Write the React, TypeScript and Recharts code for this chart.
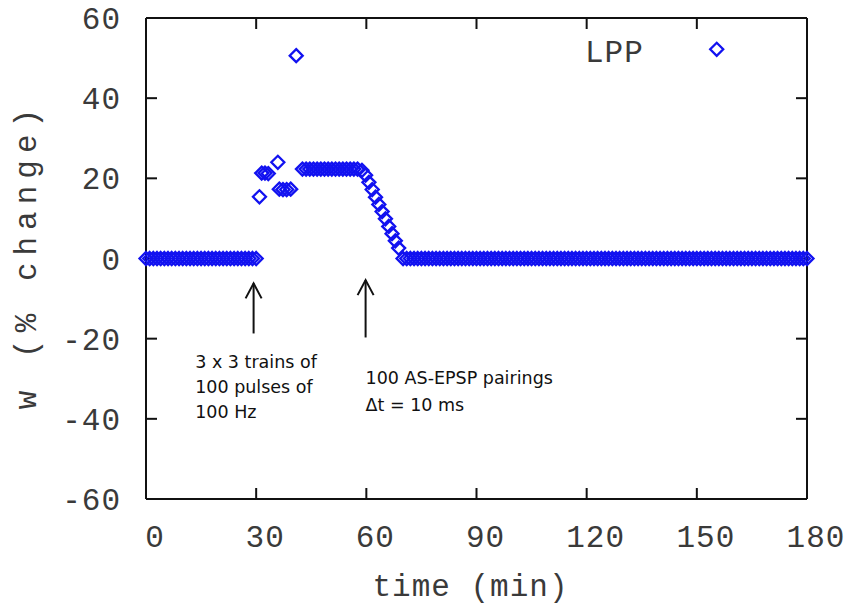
import React from "react";
import {
  ScatterChart,
  Scatter,
  XAxis,
  YAxis,
  ReferenceLine,
  ReferenceDot,
  Legend,
} from "recharts";

// axis ticks
const X_TICKS = [0, 30, 60, 90, 120, 150, 180];
const Y_TICKS = [-60, -40, -20, 0, 20, 40, 60];

// baseline before the tetanus (min, % change)
const baseT = [
  0, 1, 2, 3, 4, 5, 6, 7, 8, 9, 10, 11, 12, 13, 14, 15, 16, 17, 18, 19, 20,
  21, 22, 23, 24, 25, 26, 27, 28, 29, 30,
];
const baseW = [
  0, 0, 0, 0, 0, 0, 0, 0, 0, 0, 0, 0, 0, 0, 0, 0, 0, 0, 0, 0, 0, 0, 0, 0, 0,
  0, 0, 0, 0, 0, 0,
];

// potentiation during the trains
const potT = [30.9, 31.5, 32.4, 33.3, 35.9, 36.3, 37.3, 38.3, 39.4, 40.9];
const potW = [15.4, 21.3, 21.3, 21.2, 24.0, 17.3, 17.2, 17.2, 17.3, 50.6];

// plateau
const plateauT = [
  42.6, 43.6, 44.6, 45.6, 46.6, 47.6, 48.6, 49.6, 50.6, 51.6, 52.6, 53.6, 54.6,
  55.6, 56.6, 57.6,
];
const plateauW = [
  22.3, 22.3, 22.3, 22.3, 22.3, 22.3, 22.3, 22.3, 22.3, 22.3, 22.3, 22.3, 22.3,
  22.3, 22.3, 22.3,
];

// depotentiation by the pairings
const declineT = [58.8, 59.8, 60.7, 61.6, 62.5, 63.4, 64.3, 65.2, 66.1, 67.0, 67.9, 68.8];
const declineW = [22.0, 20.8, 19.0, 17.2, 15.3, 13.5, 11.7, 9.9, 8.0, 6.2, 4.4, 2.6];

// back to baseline
const afterT = [
  70, 71, 72, 73, 74, 75, 76, 77, 78, 79, 80, 81, 82, 83, 84, 85, 86, 87, 88,
  89, 90, 91, 92, 93, 94, 95, 96, 97, 98, 99, 100, 101, 102, 103, 104, 105, 106,
  107, 108, 109, 110, 111, 112, 113, 114, 115, 116, 117, 118, 119, 120, 121,
  122, 123, 124, 125, 126, 127, 128, 129, 130, 131, 132, 133, 134, 135, 136,
  137, 138, 139, 140, 141, 142, 143, 144, 145, 146, 147, 148, 149, 150, 151,
  152, 153, 154, 155, 156, 157, 158, 159, 160, 161, 162, 163, 164, 165, 166,
  167, 168, 169, 170, 171, 172, 173, 174, 175, 176, 177, 178, 179, 180,
];
const afterW = [
  0, 0, 0, 0, 0, 0, 0, 0, 0, 0, 0, 0, 0, 0, 0, 0, 0, 0, 0, 0, 0, 0, 0, 0, 0,
  0, 0, 0, 0, 0, 0, 0, 0, 0, 0, 0, 0, 0, 0, 0, 0, 0, 0, 0, 0, 0, 0, 0, 0, 0,
  0, 0, 0, 0, 0, 0, 0, 0, 0, 0, 0, 0, 0, 0, 0, 0, 0, 0, 0, 0, 0, 0, 0, 0, 0,
  0, 0, 0, 0, 0, 0, 0, 0, 0, 0, 0, 0, 0, 0, 0, 0, 0, 0, 0, 0, 0, 0, 0, 0, 0,
  0, 0, 0, 0, 0, 0, 0, 0, 0, 0, 0,
];

// annotations
const arrow1 = { t: 29.3, top: -6.2, bottom: -18.7 };
const arrow2 = { t: 59.8, top: -5.4, bottom: -19.7 };
const note1 = { t: 13.4, w: -27.2, lines: ["3 x 3 trains of", "100 pulses of", "100 Hz"] };
const note2 = { t: 59.8, w: -31.2, lines: ["100 AS-EPSP pairings", "\u0394t = 10 ms"] };

const toPoints = (ts: number[], ws: number[]) => ts.map((t, i) => ({ t, w: ws[i] }));
const data = [
  ...toPoints(baseT, baseW),
  ...toPoints(potT, potW),
  ...toPoints(plateauT, plateauW),
  ...toPoints(declineT, declineW),
  ...toPoints(afterT, afterW),
];

const MONO = "'Liberation Mono', 'DejaVu Sans Mono', monospace";
const SANS = "'DejaVu Sans', Verdana, sans-serif";
const BLUE = "#1212f0";
const INK = "#111";
const LABEL = "#3a3a3a";
const TICK = 11;

const diamondPath = (cx: number, cy: number, r: number) =>
  `M${cx},${cy - r}L${cx + r},${cy}L${cx},${cy + r}L${cx - r},${cy}Z`;

const Diamond = (props: any) => {
  const { cx, cy } = props;
  if (cx == null || cy == null) return null;
  return <path d={diamondPath(cx, cy, 6.5)} fill="none" stroke={BLUE} strokeWidth={2.3} />;
};

const XTick = ({ x, y, payload }: any) => (
  <text x={x + 9} y={y} dy="0.71em" textAnchor="middle" fill={LABEL}
    fontFamily={MONO} fontSize={31} letterSpacing={1}>
    {payload.value}
  </text>
);

const YTick = ({ x, y, payload }: any) => (
  <text x={x} y={y} dy="0.36em" textAnchor="end" fill={LABEL}
    fontFamily={MONO} fontSize={31} letterSpacing={1}>
    {payload.value}
  </text>
);

// gnuplot-style inward ticks on both ends of a grid line
const VStub = (props: any) => {
  const { x1, y1, y2 } = props;
  const top = Math.min(y1, y2);
  const bottom = Math.max(y1, y2);
  return (
    <g stroke={INK} strokeWidth={2}>
      <line x1={x1} x2={x1} y1={top} y2={top + TICK} />
      <line x1={x1} x2={x1} y1={bottom - TICK} y2={bottom} />
    </g>
  );
};

const HStub = (props: any) => {
  const { x1, x2, y1 } = props;
  const left = Math.min(x1, x2);
  const right = Math.max(x1, x2);
  return (
    <g stroke={INK} strokeWidth={2}>
      <line x1={left} x2={left + TICK} y1={y1} y2={y1} />
      <line x1={right - TICK} x2={right} y1={y1} y2={y1} />
    </g>
  );
};

const XTitle = ({ viewBox }: any) => (
  <text x={viewBox.x + viewBox.width / 2 - 6} y={viewBox.y + 97} textAnchor="middle"
    fill={LABEL} fontFamily={MONO} fontSize={31} letterSpacing={1}>
    time (min)
  </text>
);

const YTitle = ({ viewBox }: any) => {
  const cx = 27;
  const cy = viewBox.y + viewBox.height / 2 - 3;
  return (
    <text x={cx} y={cy} transform={`rotate(-90, ${cx}, ${cy})`} textAnchor="middle"
      dominantBaseline="central" fill={LABEL} fontFamily={MONO} fontSize={31} letterSpacing={7}>
      w (% change)
    </text>
  );
};

const Arrow = (props: any) => {
  const { x1, y1, y2 } = props;
  const top = Math.min(y1, y2);
  const bottom = Math.max(y1, y2);
  return (
    <g stroke={INK} strokeWidth={2} fill="none">
      <line x1={x1} y1={top} x2={x1} y2={bottom} />
      <polyline points={`${x1 - 8},${top + 15} ${x1},${top} ${x1 + 8},${top + 15}`} />
    </g>
  );
};

const noteShape = (lines: string[], lineHeight: number) => (props: any) => {
  const { cx, cy } = props;
  return (
    <text x={cx} y={cy} fill={INK} fontFamily={SANS} fontSize={17.5}>
      {lines.map((l, i) => (
        <tspan key={i} x={cx} y={cy + i * lineHeight}>
          {l}
        </tspan>
      ))}
    </text>
  );
};

const KeyContent = () => (
  <svg width={170} height={44} style={{ display: "block", overflow: "visible" }}>
    <text x={5} y={28} fill={LABEL} fontFamily={MONO} fontSize={31} letterSpacing={1}>
      LPP
    </text>
    <path d={diamondPath(136.7, 15.3, 6.5)} fill="none" stroke={BLUE} strokeWidth={2.3} />
  </svg>
);

export default function App() {
  return (
    <div style={{ position: "absolute", left: 0, top: 0, width: 852, height: 604, background: "#fff" }}>
      <ScatterChart width={852} height={604} margin={{ top: 16, right: 43, bottom: 0, left: 0 }}>
        <XAxis xAxisId="b" type="number" dataKey="t" domain={[0, 180]} ticks={X_TICKS}
          height={105} tickSize={0} tickMargin={26} tick={<XTick />} tickLine={false}
          axisLine={{ stroke: INK, strokeWidth: 2 }} label={{ content: XTitle }} />
        <XAxis xAxisId="top" orientation="top" type="number" domain={[0, 180]} ticks={X_TICKS}
          height={2} tick={false} tickLine={false}
          axisLine={{ stroke: INK, strokeWidth: 2 }} />
        <YAxis yAxisId="l" type="number" dataKey="w" domain={[-60, 60]} ticks={Y_TICKS}
          width={146} tickSize={0} tickMargin={25} tick={<YTick />} tickLine={false}
          axisLine={{ stroke: INK, strokeWidth: 2 }} label={{ content: YTitle }} />
        <YAxis yAxisId="r" orientation="right" type="number" domain={[-60, 60]} ticks={Y_TICKS}
          width={2} tick={false} tickLine={false}
          axisLine={{ stroke: INK, strokeWidth: 2 }} />
        {X_TICKS.slice(1, -1).map((t) => (
          <ReferenceLine key={`x${t}`} xAxisId="b" yAxisId="l" x={t} shape={VStub} />
        ))}
        {Y_TICKS.slice(1, -1).map((v) => (
          <ReferenceLine key={`y${v}`} xAxisId="b" yAxisId="l" y={v} shape={HStub} />
        ))}
        <Legend verticalAlign="middle" align="center" layout="horizontal"
          wrapperStyle={{ top: 34, left: 580, width: 170, height: 44 }} content={KeyContent} />
        <Scatter name="LPP" data={data} xAxisId="b" yAxisId="l" shape={<Diamond />}
          isAnimationActive={false} />
        <ReferenceLine xAxisId="b" yAxisId="l"
          segment={[{ x: arrow1.t, y: arrow1.top }, { x: arrow1.t, y: arrow1.bottom }]} shape={Arrow} />
        <ReferenceLine xAxisId="b" yAxisId="l"
          segment={[{ x: arrow2.t, y: arrow2.top }, { x: arrow2.t, y: arrow2.bottom }]} shape={Arrow} />
        <ReferenceDot xAxisId="b" yAxisId="l" x={note1.t} y={note1.w} r={0}
          shape={noteShape(note1.lines, 25)} />
        <ReferenceDot xAxisId="b" yAxisId="l" x={note2.t} y={note2.w} r={0}
          shape={noteShape(note2.lines, 27)} />
      </ScatterChart>
    </div>
  );
}
